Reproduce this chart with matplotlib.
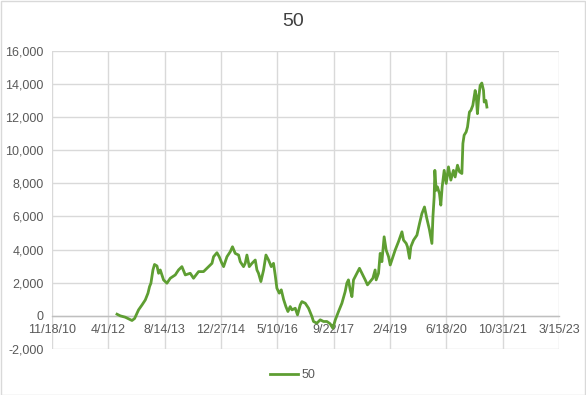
import matplotlib
matplotlib.use("Agg")
import matplotlib.pyplot as plt
import matplotlib.ticker as mticker
from matplotlib.patches import Rectangle
import datetime as dt

# Excel date serials (days) and values for series "50"
dates = [41077, 41106, 41150, 41210, 41233, 41268, 41299, 41328, 41352, 41366,
         41378, 41396, 41410, 41432, 41446, 41461, 41490, 41520, 41550, 41594,
         41623, 41653, 41683, 41727, 41756, 41801, 41845, 41860, 41890, 41920,
         41934, 41964, 41984, 42008, 42023, 42053, 42082, 42102, 42126, 42156,
         42171, 42200, 42215, 42230, 42251, 42275, 42304, 42319, 42333, 42354,
         42378, 42399, 42422, 42446, 42466, 42481, 42496, 42517, 42535, 42555,
         42576, 42594, 42614, 42630, 42659, 42679, 42703, 42718, 42748, 42777,
         42807, 42821, 42851, 42881, 42910, 42940, 42969, 42993, 43014, 43043,
         43073, 43102, 43117, 43131, 43147, 43162, 43176, 43206, 43229, 43251,
         43280, 43300, 43324, 43348, 43368, 43377, 43398, 43413, 43428, 43448,
         43466, 43487, 43502, 43526, 43546, 43575, 43606, 43620, 43644, 43655,
         43673, 43685, 43709, 43739, 43762, 43783, 43806, 43826, 43850, 43872,
         43881, 43892, 43898, 43910, 43921, 43939, 43951, 43963, 43981, 43999,
         44019, 44040, 44063, 44078, 44099, 44117, 44138, 44147, 44158, 44176,
         44188, 44205, 44218, 44235, 44247, 44256, 44265, 44276, 44285, 44300,
         44315, 44330, 44336, 44351, 44360]
values = [100, 0, -80, -280, -160, 360, 660, 960, 1370, 1770,
          1970, 2770, 3100, 3010, 2570, 2770, 2170, 1970, 2270, 2470,
          2770, 2970, 2470, 2570, 2270, 2670, 2670, 2770, 2970, 3170,
          3570, 3810, 3570, 3170, 2970, 3570, 3870, 4170, 3770, 3670,
          3270, 2970, 3170, 3670, 2970, 3170, 3370, 2770, 2570, 2070,
          2770, 3670, 3370, 2970, 3170, 2470, 1670, 1370, 1570, 1000,
          560, 260, 560, 360, 460, 60, 660, 860, 760, 460,
          -40, -340, -440, -240, -340, -340, -480, -750, -250, 260,
          760, 1460, 1970, 2170, 1570, 1160, 2170, 2570, 2870, 2570,
          2170, 1870, 2070, 2270, 2770, 2170, 2570, 3770, 3270, 4770,
          3970, 3570, 3070, 3570, 3970, 4470, 5070, 4570, 4370, 4170,
          3470, 4170, 4570, 4870, 5570, 6170, 6570, 5900, 5200, 4370,
          5970, 7170, 8780, 7580, 7780, 7380, 6680, 7780, 8780, 7990,
          8990, 8190, 8780, 8380, 9090, 8690, 8590, 10400, 10900, 11100,
          11400, 12300, 12400, 12700, 13200, 13600, 13300, 12200, 13000, 13900,
          14050, 13600, 12900, 13000, 12600]
series_name = "50"
title = "50"
x_ticks = [40500, 41000, 41500, 42000, 42500, 43000, 43500, 44000, 44500, 45000]
y_ticks = [-2000, 0, 2000, 4000, 6000, 8000, 10000, 12000, 14000, 16000]

plt.rcParams['font.family'] = ['Liberation Sans', 'DejaVu Sans']

EXCEL_EPOCH = dt.date(1899, 12, 30)
def fmt_date(v, pos=None):
    d = EXCEL_EPOCH + dt.timedelta(days=int(round(v)))
    return f"{d.month}/{d.day}/{d.year % 100}"

fig = plt.figure(figsize=(5.86, 3.95), dpi=100)
fig.patches.append(Rectangle((0.5/586, 0.5/395), 1 - 1.5/586, 1 - 1.5/395,
                             transform=fig.transFigure, fill=False,
                             edgecolor='#D9D9D9', linewidth=1.0))
ax = fig.add_axes([52/586, 1 - 349/395, (559 - 52)/586, (349 - 50.7)/395])

ax.plot(dates, values, color='#5E9E32', linewidth=2.0, label=series_name,
        solid_joinstyle='round', zorder=3)

ax.set_xlim(x_ticks[0], x_ticks[-1])
ax.set_ylim(y_ticks[0], y_ticks[-1])
ax.set_xticks(x_ticks)
ax.set_yticks(y_ticks)
ax.xaxis.set_major_formatter(mticker.FuncFormatter(fmt_date))
ax.yaxis.set_major_formatter(mticker.FuncFormatter(lambda v, p: f"{int(v):,}"))

ax.grid(True, color='#D9D9D9', linewidth=1.0, zorder=0)
for s in ['top', 'right', 'left']:
    ax.spines[s].set_visible(False)
ax.spines['bottom'].set_position(('data', 0))
ax.spines['bottom'].set_color('#BFBFBF')
ax.spines['bottom'].set_linewidth(1.0)
ax.spines['bottom'].set_zorder(2)

ax.tick_params(axis='both', length=0, labelsize=9, colors='#595959')
ax.tick_params(axis='x', pad=6)
ax.tick_params(axis='y', pad=6)

fig.text(0.5, 1 - 22/395, title, ha='center', va='center', fontsize=14,
         color='#404040')

leg = fig.legend(loc='center', bbox_to_anchor=(0.5, 1 - 375/395), frameon=False,
                 fontsize=9, handlelength=2.25, handletextpad=0.3,
                 labelcolor='#595959')

fig.savefig('out.png', dpi=100)
